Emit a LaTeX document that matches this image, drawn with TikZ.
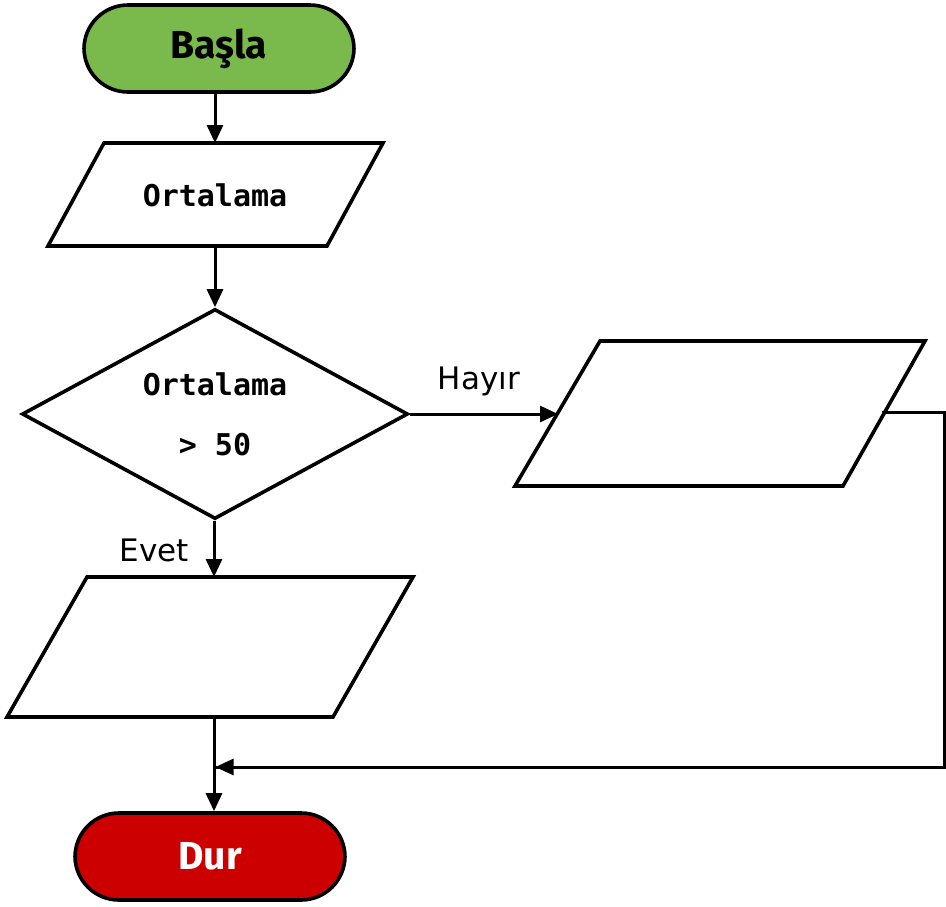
\documentclass[tikz,border=0pt]{standalone}
\usepackage{fontspec}
\setmainfont{DejaVu Sans}
\newfontfamily\termfont{Fira Sans}
\newfontfamily\codefont{DejaVu Sans Mono}
\usetikzlibrary{shapes.geometric,arrows.meta}
\definecolor{startgreen}{RGB}{122,186,76}
\definecolor{stopred}{RGB}{204,0,0}
\tikzset{
  terminal/.style={draw=black,line width=3.6pt,rectangle,rounded corners=44pt,
    minimum width=270pt,minimum height=87pt,inner sep=0pt,
    font=\termfont\bfseries\fontsize{39}{44}\selectfont},
  decision/.style={draw=black,line width=3.6pt,diamond,aspect=1.84,
    minimum width=386pt,minimum height=210pt,inner sep=0pt,fill=white,
    align=center,font=\codefont\bfseries\fontsize{30}{60}\selectfont},
  iobox/.style={draw=black,line width=3.6pt,line join=miter,fill=white},
  codetext/.style={font=\codefont\bfseries\fontsize{30}{36}\selectfont},
  lbl/.style={font=\fontsize{31}{34}\selectfont,inner sep=0pt},
  flow/.style={draw=black,line width=3pt,-{Triangle[length=18pt,width=16pt]}},
  plain/.style={draw=black,line width=3pt}
}
\begin{document}
\begin{tikzpicture}[x=1pt,y=-1pt]
\useasboundingbox[fill=white] (0,0) rectangle (946,906);

% terminals
\node[terminal,fill=startgreen,text=black] (start) at (219,48.5) {Başla};
\node[terminal,fill=stopred,text=white] (stop) at (210,856.5) {Dur};

% input parallelogram
\draw[iobox] (104,143) -- (383,143) -- (327,246) -- (48,246) -- cycle;
\node[codetext] (ortalama) at (215,195) {Ortalama};
\coordinate (p1top) at (215,143);
\coordinate (p1bot) at (215,246);

% decision
\node[decision] (dec) at (215,414) {Ortalama\\> 50};

% right parallelogram (Hayir)
\draw[iobox] (600,341) -- (925,341) -- (843,486) -- (515,486) -- cycle;
\coordinate (p3left) at (558,414);
\coordinate (p3right) at (882,412);

% lower parallelogram (Evet)
\draw[iobox] (87,577) -- (413,577) -- (333,717) -- (7,717) -- cycle;
\coordinate (p2top) at (214,577);
\coordinate (p2bot) at (214,717);

% routing coordinates
\coordinate (c1) at (944,412);
\coordinate (c2) at (944,767);
\coordinate (join) at (214,767);

% connectors
\draw[flow] (p1top |- start.south) -- (p1top);
\draw[flow] (p1bot) -- (dec.north);
\draw[flow] (dec.east) -- (p3left);
\draw[flow] (p2top |- dec.south) -- (p2top);
\draw[plain] (p3right) -- (c1) -- (c2) -- (join);
\draw[flow] (c2) -- ([xshift=1.5pt]join);
\draw[flow] (p2bot) -- (p2bot |- stop.north);

% labels
\node[lbl] (hayir) at (479,381) {Hayır};
\node[lbl] (evet) at (154,550) {Evet};
\end{tikzpicture}
\end{document}
